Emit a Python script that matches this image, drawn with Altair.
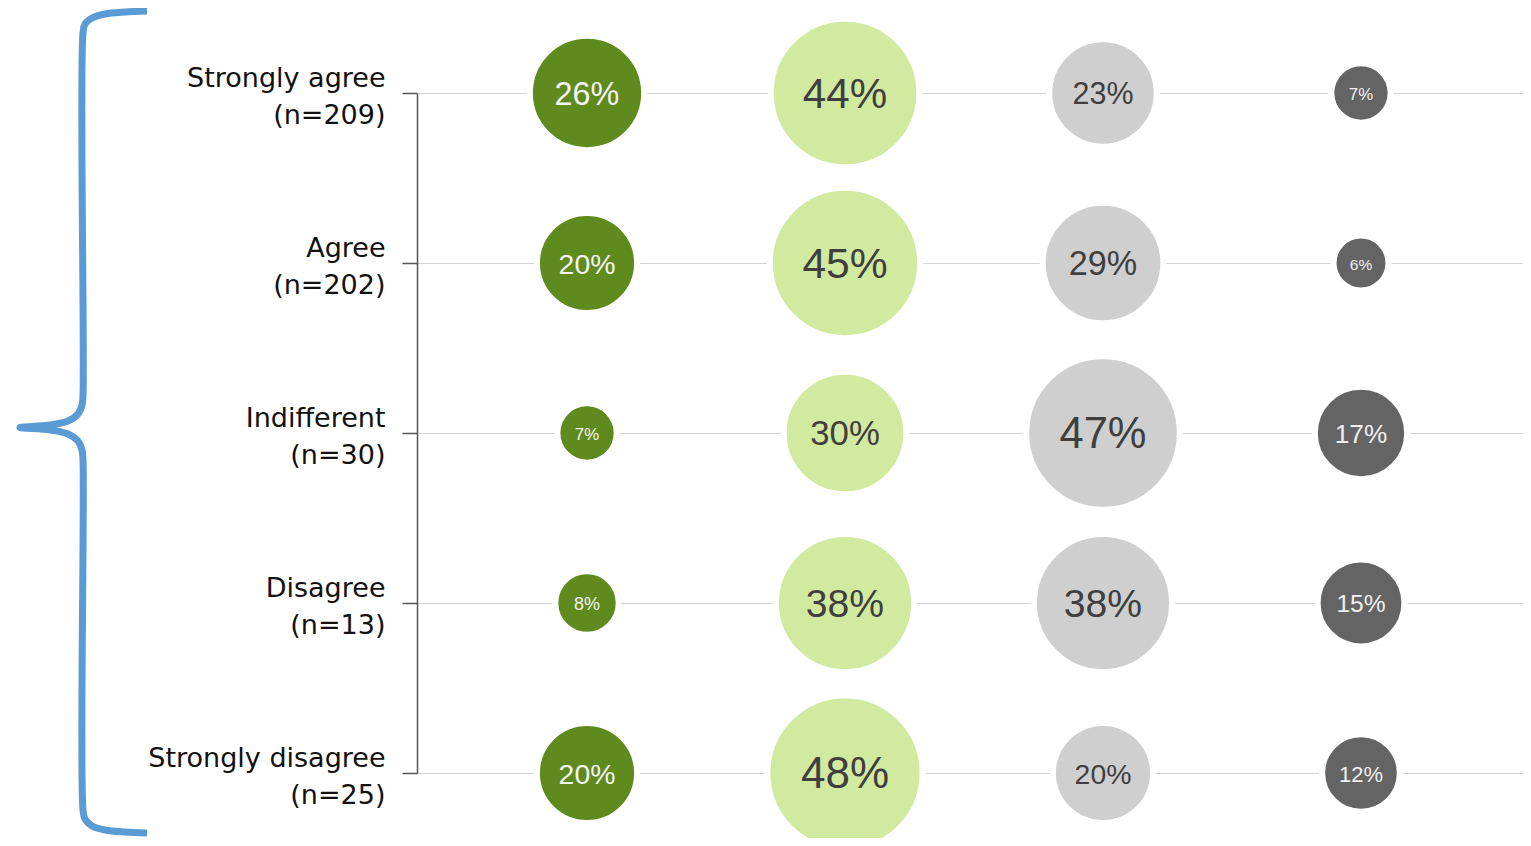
import altair as alt
import pandas as pd

# ---- data ----
rows = ["Strongly agree", "Agree", "Indifferent", "Disagree", "Strongly disagree"]
counts = [209, 202, 30, 13, 25]
columns = ["Very positive", "Positive", "Negative", "Very negative"]
very_positive = [26, 20, 7, 8, 20]
positive = [44, 45, 30, 38, 48]
negative = [23, 29, 47, 38, 20]
very_negative = [7, 6, 17, 15, 12]
fill_colors = ["#5F8A1E", "#D1EAA0", "#CFCFCF", "#646464"]
text_colors = ["#F4F4F4", "#3F3F3F", "#3F3F3F", "#F0F0F0"]

# decorative brace outline (page pixel coordinates)
brace_px = [147, 125, 105, 92, 85, 83, 83, 82, 78, 68, 50, 20, 50, 68, 78, 82, 83, 83, 85, 92, 105, 125, 147]
brace_py = [11, 12, 14, 18, 24, 33, 395, 405, 414, 421, 425, 427.5, 430, 434, 441, 450, 460, 810, 819, 826, 830, 832, 833]

labels = [f"{r}|(n={n})" for r, n in zip(rows, counts)]
series = [very_positive, positive, negative, very_negative]
recs = []
for ci, (c, vals) in enumerate(zip(columns, series)):
    for lab, v in zip(labels, vals):
        recs.append({"row": lab, "col": c, "ci": ci, "value": v, "text": f"{v}%"})
df = pd.DataFrame(recs)

brace = pd.DataFrame({
    "i": list(range(len(brace_px))),
    "bx": [x - 417 for x in brace_px],
    "by": [y - 93 for y in brace_py],
})

x_enc = alt.X("ci:Q", axis=None,
              scale=alt.Scale(domain=[-0.659, 3.628], nice=False, zero=False))
y_enc = alt.Y("row:N", sort=labels, title=None,
              scale=alt.Scale(type="point", padding=0),
              axis=alt.Axis(labelExpr="split(datum.label, '|')",
                            labelFont="DejaVu Sans", labelFontSize=27,
                            labelColor="#111111", labelLineHeight=37,
                            labelPadding=17, labelAlign="right",
                            labelBaseline="middle", labelOffset=-15,
                            labelLimit=500,
                            tickSize=15, tickColor="#555555", tickWidth=1.5,
                            domainColor="#555555", domainWidth=1.5,
                            grid=True, gridColor="#D3D3D3", gridWidth=1))

points = alt.Chart(df).mark_circle(opacity=1, stroke="white", strokeWidth=6,
                                   strokeOpacity=1).encode(
    x=x_enc,
    y=y_enc,
    size=alt.Size("value:Q", legend=None,
                  scale=alt.Scale(type="linear", domain=[0, 48], range=[0, 24100])),
    color=alt.Color("col:N", legend=None,
                    scale=alt.Scale(domain=columns, range=fill_colors)),
)

texts = alt.Chart(df).mark_text(font="Liberation Sans", align="center",
                                baseline="middle", dy=2).encode(
    x=x_enc,
    y=y_enc,
    text="text:N",
    size=alt.Size("value:Q", legend=None,
                  scale=alt.Scale(type="sqrt", domain=[0, 48], range=[0, 44])),
    color=alt.Color("col:N", legend=None,
                    scale=alt.Scale(domain=columns, range=text_colors)),
)

main = alt.layer(points, texts).resolve_scale(color="independent", size="independent")

brace_line = alt.Chart(brace).mark_line(color="#5B9BD5", strokeWidth=7,
                                        interpolate="catmull-rom",
                                        strokeCap="butt", strokeJoin="round").encode(
    x=alt.X("bx:Q", scale=None, axis=None),
    y=alt.Y("by:Q", scale=None, axis=None),
    order=alt.Order("i:Q"),
)

chart = alt.layer(main, brace_line).properties(
    width=1106, height=680,
    padding={"left": 409, "top": 85, "right": 0, "bottom": 65},
    autosize=alt.AutoSizeParams(type="none"),
).configure_view(stroke=None)

chart.save("out.html", embed_options={"renderer": "svg", "actions": False})
